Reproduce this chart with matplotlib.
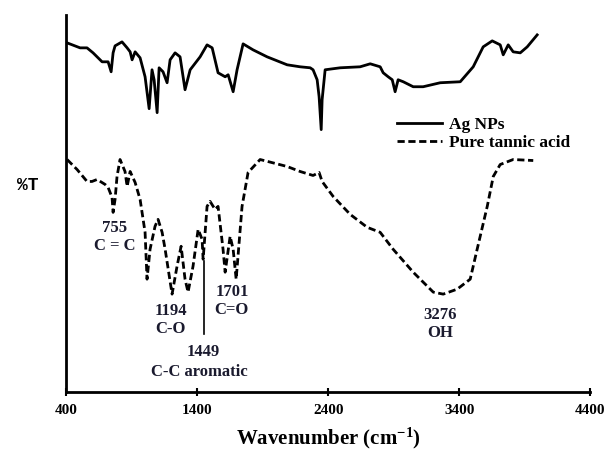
import matplotlib.pyplot as plt
import numpy as np

# FTIR spectra (transmittance in arbitrary units, stacked)
ag_wn = [408, 507, 560, 606, 675, 721, 744, 759, 774, 827, 866, 889, 904, 927, 965,
         1003, 1034, 1056, 1072, 1095, 1110, 1140, 1171, 1194, 1232, 1270, 1308, 1347,
         1423, 1476, 1515, 1560, 1614, 1637, 1675, 1705, 1751, 1827, 1934, 2087, 2186,
         2263, 2285, 2316, 2331, 2347, 2354, 2377, 2492, 2644, 2721, 2797, 2820, 2858,
         2889, 2911, 2934, 2973, 3049, 3125, 3255, 3408, 3507, 3583, 3652, 3713, 3736,
         3774, 3812, 3866, 3919, 3995]
ag_t = [350, 345, 345, 340, 331, 331, 321, 340, 347, 351, 345, 341, 333, 341, 335,
        316, 284, 323, 313, 280, 325, 321, 310, 333, 340, 336, 303, 323,
        336, 348, 345, 320, 316, 318, 301, 323, 349, 343, 336, 328, 326,
        325, 323, 313, 296, 263, 293, 323, 325, 326, 329, 326, 320, 316,
        313, 301, 313, 311, 306, 306, 310, 311, 326, 346, 352, 348, 338,
        348, 341, 340, 346, 358]

ta_wn = [408, 484, 560, 598, 637, 698, 721, 751, 759, 774, 789, 812, 850, 866, 889,
         927, 965, 1003, 1018, 1041, 1079, 1102, 1133, 1156, 1209, 1247, 1278, 1308,
         1331, 1369, 1408, 1438, 1446, 1476, 1499, 1537, 1560, 1598, 1614, 1652, 1675,
         1698, 1743, 1789, 1881, 2087, 2186, 2285, 2331, 2354, 2438, 2568, 2698, 2797,
         2896, 3049, 3202, 3278, 3385, 3484, 3537, 3614, 3660, 3713, 3812, 3965]
ta_t = [233, 223, 211, 211, 213, 208, 205, 195, 180, 193, 216, 233, 221, 206, 221,
        210, 193, 160, 113, 143, 166, 173, 160, 143, 98, 126, 146, 113,
        100, 126, 163, 153, 133, 186, 191, 183, 186, 143, 120, 156, 143,
        113, 186, 220, 233, 226, 221, 217, 220, 211, 196, 178, 165, 160,
        143, 120, 100, 98, 103, 113, 143, 186, 216, 228, 233, 232]

peak_labels = ["755\nC = C", "1194\nC-O", "1449", "C-C aromatic", "1701\nC=O", "3276\nOH"]
peak_pos = [(770, 155), (1200, 72), (1445, 40), (1420, 20), (1665, 91), (3255, 68)]

serif = 'Liberation Serif'
plt.rcParams['mathtext.fontset'] = 'custom'
plt.rcParams['mathtext.rm'] = 'Liberation Serif:bold'
plt.rcParams['mathtext.it'] = 'Liberation Serif:bold'
plt.rcParams['mathtext.bf'] = 'Liberation Serif:bold'
plt.rcParams['mathtext.default'] = 'bf'

fig = plt.figure(figsize=(6.06, 4.53), dpi=100)
ax = fig.add_axes([0.109, 0.135, 0.865, 0.832])

ax.plot(ag_wn, ag_t, color='black', lw=2, label='Ag NPs')
ax.plot(ta_wn, ta_t, color='black', lw=2, linestyle=(0, (2.6, 1.3)), label='Pure tannic acid')

for txt, (xx, yy) in zip(peak_labels, peak_pos):
    ax.text(xx, yy, txt, ha='center', va='center', fontsize=12, fontweight='bold',
            family=serif, color='#1a1a2e', linespacing=1.15)

# marker line for the 1449 band
ax.plot([1449, 1449], [58, 131], color='black', lw=1.2)

ax.set_xlim(400, 4400)
ax.set_ylim(0, 378)
ax.set_xticks([400, 1400, 2400, 3400, 4400])
ax.set_yticks([])
ax.spines['top'].set_visible(False)
ax.spines['right'].set_visible(False)
ax.spines['left'].set_linewidth(2)
ax.spines['bottom'].set_linewidth(2)
ax.tick_params(axis='x', direction='inout', length=6, width=1.5, pad=6)
for lab in ax.get_xticklabels():
    lab.set_fontfamily(serif)
    lab.set_fontweight('bold')
    lab.set_fontsize(11)

ax.set_xlabel('Wavenumber (cm$^{-1}$)', fontsize=15, fontweight='bold', family=serif, labelpad=6)

fig.text(0.045, 0.59, '%T', fontsize=13, fontweight='bold', family='Liberation Mono',
         ha='center', va='center')

leg = ax.legend(loc='upper left', bbox_to_anchor=(0.614, 0.752), frameon=False,
                prop={'family': serif, 'weight': 'bold', 'size': 12.5},
                handlelength=2.6, handletextpad=0.4, labelspacing=0.1, borderpad=0)

fig.savefig('out.png', dpi=100)
